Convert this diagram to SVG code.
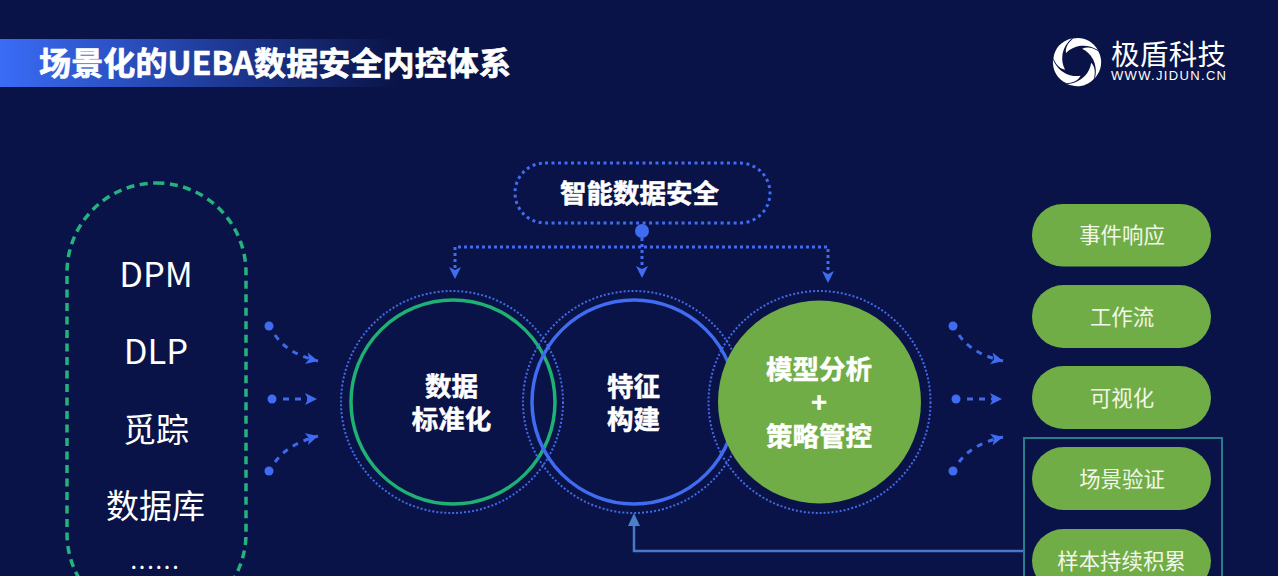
<svg xmlns="http://www.w3.org/2000/svg" width="1278" height="576" viewBox="0 0 1278 576">
<style>
text{font-family:"Noto Sans CJK SC","Liberation Sans",sans-serif;fill:#fff;text-anchor:middle}
.ring{fill:none;stroke:#4169e8;stroke-width:2;stroke-dasharray:2 2}
.flow{fill:none;stroke:#3f69e8;stroke-width:3;stroke-dasharray:6 6}
.dot{fill:#3f6cf0}
.tree{fill:none;stroke:#3f6cf0;stroke-width:3;stroke-dasharray:3 3}
.pill{fill:#70ad47}
.pt{font-size:21.400px;fill:#f2f7ea}
.lt{font-size:33px}
.lat{font-size:34.500px}
.ct{font-size:26.500px;font-weight:700;stroke:#fff;stroke-width:.5px}
</style>
<defs>
<linearGradient id="band" x1="0" x2="1" y1="0" y2="0"><stop offset="0" stop-color="#3a6cf6"/><stop offset="0.45" stop-color="#2343a8"/><stop offset="1" stop-color="#0a1347"/></linearGradient>
<marker id="ah" markerUnits="userSpaceOnUse" markerWidth="14" markerHeight="14" refX="12" refY="6" orient="auto"><path d="M0 0L12 6L0 12L3 6Z" fill="#3f6cf0"/></marker>
<path id="blade" d="M-4,-23.500 C6,-25.500 15,-21.500 21,-12 C15,-16 8,-17 2,-16 C-3,-15 -7,-13 -11,-9 C-12,-15 -8,-20 -4,-23.500Z" fill="#fff"/>
</defs>
<rect width="1278" height="576" fill="#0a1347"/>
<g id="title"><rect x="0" y="39" width="400" height="48" fill="url(#band)"/>
<text x="275" y="75" style="font-size:32px;font-weight:700" textLength="472" stroke="#fff" stroke-width=".7">场景化的UEBA数据安全内控体系</text></g>
<g id="logo">
<use href="#blade" transform="translate(1077 62)"/>
<use href="#blade" transform="translate(1077 62) rotate(72)"/>
<use href="#blade" transform="translate(1077 62) rotate(144)"/>
<use href="#blade" transform="translate(1077 62) rotate(216)"/>
<use href="#blade" transform="translate(1077 62) rotate(288)"/>
<text x="1168.500" y="65" style="font-size:28.500px" textLength="115">极盾科技</text>
<text x="1168.500" y="80" style="font-size:13px;font-family:'Liberation Sans',sans-serif" textLength="115">WWW.JIDUN.CN</text>
</g>
<g id="connectors">
<path class="tree" d="M455 268V247H828V272M642 238V268"/>
<path d="M449 267L455 279L461 267L455 270Z M636 266L642 278L648 266L642 269Z M822 271L828 283L834 271L828 274Z" fill="#3f6cf0"/>
<circle class="dot" cx="642" cy="231" r="7"/>
<g id="flows-left">
<circle class="dot" cx="269" cy="326" r="4.500"/><circle class="dot" cx="272" cy="399" r="4.500"/><circle class="dot" cx="269" cy="471" r="4.500"/>
<path class="flow" d="M275 335Q288 354 318 361" marker-end="url(#ah)"/>
<path class="flow" d="M283 399H317" marker-end="url(#ah)"/>
<path class="flow" d="M275 462Q288 444 318 436" marker-end="url(#ah)"/>
</g>
<g id="flows-right">
<circle class="dot" cx="953" cy="326" r="4.500"/><circle class="dot" cx="956" cy="399" r="4.500"/><circle class="dot" cx="953" cy="471" r="4.500"/>
<path class="flow" d="M959 335Q972 354 1003 361" marker-end="url(#ah)"/>
<path class="flow" d="M967 399H1002" marker-end="url(#ah)"/>
<path class="flow" d="M959 462Q972 444 1003 437" marker-end="url(#ah)"/>
</g>
<path d="M1025 551H634V524" fill="none" stroke="#4a78c8" stroke-width="2.500"/>
<path d="M628 526L634 513L640 526Z" fill="#4a80c8"/>
</g>
<g id="node-smart"><rect x="515" y="163" width="255" height="60" rx="30" fill="none" stroke="#3f6cf0" stroke-width="3" stroke-dasharray="3 3.500"/>
<text class="ct" x="639.500" y="203">智能数据安全</text></g>
<g id="node-sources"><rect x="67" y="183" width="179" height="440" rx="89.500" fill="none" stroke="#23b37e" stroke-width="3.500" stroke-dasharray="8 5.500"/>
<text class="lat" x="156" y="287">DPM</text><text class="lat" x="156" y="364">DLP</text><text class="lt" x="156" y="442">觅踪</text><text class="lt" x="155.500" y="518">数据库</text><text x="156" y="569" style="font-size:17px;font-weight:700;letter-spacing:2.800px">......</text></g>
<g id="node-std"><circle class="ring" cx="452" cy="402" r="111"/><circle cx="453" cy="402" r="102" fill="none" stroke="#1fb074" stroke-width="3.500"/>
<text class="ct" x="451.500" y="396">数据</text><text class="ct" x="451.500" y="429">标准化</text></g>
<g id="node-feat"><circle class="ring" cx="634" cy="402" r="111"/><circle cx="634" cy="402" r="102" fill="none" stroke="#3f6cf0" stroke-width="3.500"/>
<text class="ct" x="633.500" y="396">特征</text><text class="ct" x="633.500" y="429">构建</text></g>
<g id="node-model"><circle class="ring" cx="819.500" cy="402" r="111"/><circle class="pill" cx="819.500" cy="402" r="101.500"/>
<text class="ct" x="819" y="379">模型分析</text><text class="ct" x="819" y="412">+</text><text class="ct" x="819" y="446">策略管控</text></g>
<g id="node-box"><rect x="1024" y="438" width="198" height="160" fill="none" stroke="#2a7c8a" stroke-width="2"/></g>
<g id="node-r1"><rect class="pill" x="1032" y="204" width="179" height="62.500" rx="31"/><text class="pt" x="1122" y="243">事件响应</text></g>
<g id="node-r2"><rect class="pill" x="1032" y="285" width="179" height="63" rx="31.500"/><text class="pt" x="1122" y="325">工作流</text></g>
<g id="node-r3"><rect class="pill" x="1032" y="366" width="179" height="63" rx="31.500"/><text class="pt" x="1122" y="406">可视化</text></g>
<g id="node-r4"><rect class="pill" x="1032" y="447" width="179" height="63" rx="31.500"/><text class="pt" x="1122" y="487">场景验证</text></g>
<g id="node-r5"><rect class="pill" x="1032" y="529" width="179" height="63" rx="31.500"/><text class="pt" x="1121.500" y="569">样本持续积累</text></g>
</svg>
